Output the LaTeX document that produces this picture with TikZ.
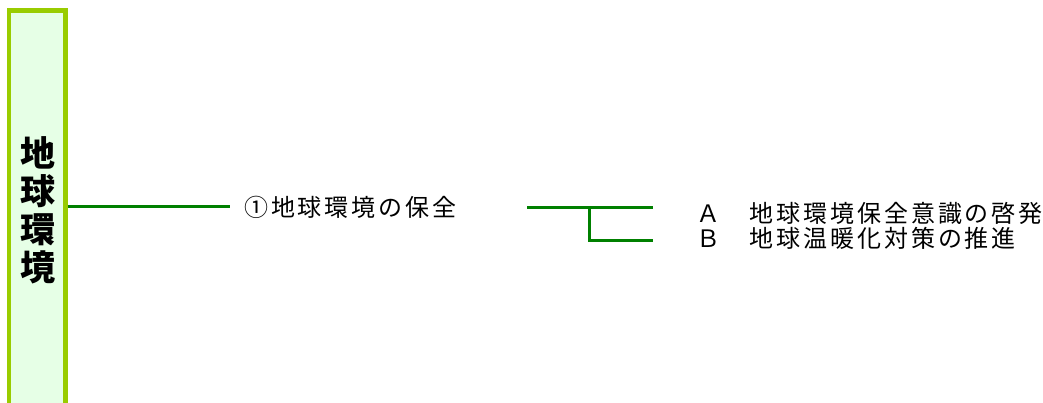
\documentclass[tikz,border=0pt]{standalone}
\usepackage{fontspec}
\newfontfamily\cjk[LetterSpace=12]{Noto Sans CJK JP}
\newfontfamily\cjkv{Noto Sans CJK JP}
\definecolor{linegreen}{RGB}{0,128,0}
\definecolor{boxborder}{RGB}{153,204,0}
\definecolor{boxfill}{RGB}{230,255,230}
\tikzset{
  themebox/.style={draw=boxborder, fill=boxfill, line width=4.5pt, minimum width=56.5pt, minimum height=409.5pt, inner sep=0pt},
  vtext/.style={align=center, font=\cjkv\bfseries\fontsize{35}{38}\selectfont, inner sep=0pt},
  item/.style={font=\cjk\fontsize{24}{26}\selectfont, inner sep=0pt, anchor=west},
  conn/.style={draw=linegreen, line width=3pt}
}
\begin{document}
\begin{tikzpicture}[x=1pt,y=-1pt]
\useasboundingbox (0,0) rectangle (1043,403);
\clip (0,0) rectangle (1043,403);
\node[themebox] (box) at (37.25,215.25) {};
\node[vtext] (boxlabel) at (38,210) {地\\球\\環\\境};
\node[item] (goal) at (244,207) {①地球環境の保全};
\coordinate (g1) at (230,207);
\draw[conn] (box.east |- g1) -- (g1);
\node[item] (itemA) at (696,213.5) {Ａ　地球環境保全意識の啓発};
\node[item] (itemB) at (696,238.5) {Ｂ　地球温暖化対策の推進};
\coordinate (b0) at (527,208);
\coordinate (bv) at (589,208);
\coordinate (b1) at (653,208);
\coordinate (b2) at (653,241);
\draw[conn] (b0) -- (b1);
\draw[conn] (bv) -- (bv |- b2) -- (b2);
\end{tikzpicture}
\end{document}
